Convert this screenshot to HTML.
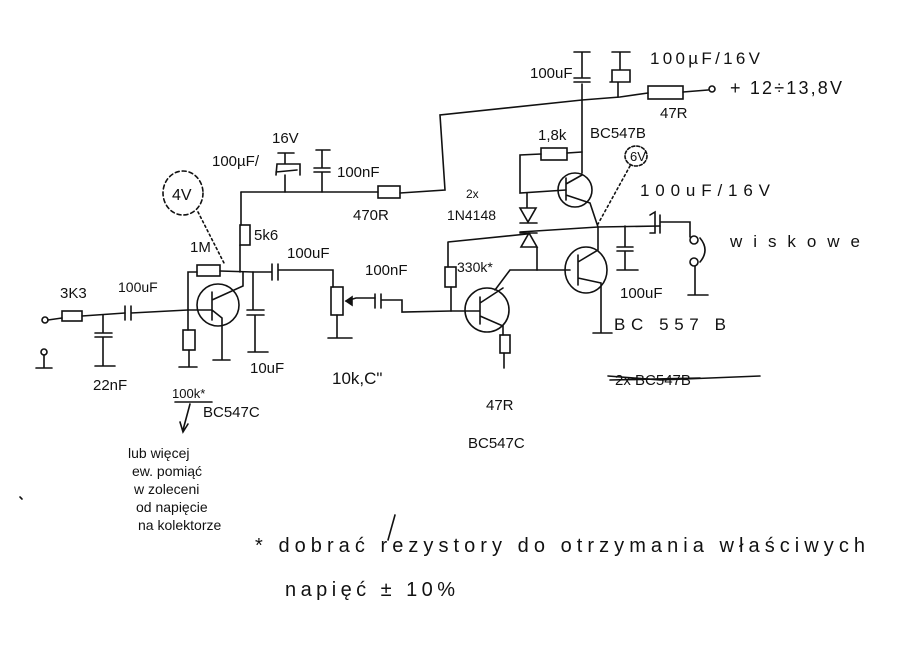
<!DOCTYPE html>
<html><head><meta charset="utf-8"><style>
html,body{margin:0;padding:0;background:#fff;width:900px;height:655px;overflow:hidden}
svg{display:block}
text{font-family:"Liberation Sans",sans-serif;fill:#111}
</style></head><body>
<svg width="900" height="655" viewBox="0 0 900 655" xmlns="http://www.w3.org/2000/svg">
<g stroke="#111" stroke-width="1.6" fill="none" stroke-linecap="round">
<circle cx="45" cy="320" r="3"/>
<path d="M48 320 L62 318"/>
<rect x="62" y="311" width="20" height="10"/>
<path d="M82 316 L125 313"/>
<path d="M103 315 V333 M95 333 H112 M95 337 H112 M103 337 V366 M95 366 H115"/>
<path d="M125 306 V320 M131 306 V320 M131 313 L188 310"/>
<circle cx="44" cy="352" r="3"/><path d="M44 355 V368 M36 368 H52"/>
<path d="M188 310 V272 L197 272"/>
<rect x="197" y="265" width="23" height="11"/>
<path d="M220 271 L253 272"/>
<path d="M188 310 V330"/><rect x="183" y="330" width="12" height="20"/><path d="M189 350 V367 M179 367 H197"/>
<path d="M188 310 H212"/>
<ellipse cx="218" cy="305" rx="21" ry="21"/>
<path d="M212 292 V320 M212 300 L243 286 V272 M212 310 L222 318 V360 M213 360 H230"/>
<path d="M240 272 V245"/><rect x="240" y="225" width="10" height="20"/><path d="M241 225 V192"/>
<path d="M253 272 V310 M247 310 H264 M247 315 H264 M255 315 V352 M248 352 H268"/>
<path d="M253 272 L272 272 M272 264 V280 M278 264 V280 M278 270 L333 270 V287"/>
<rect x="331" y="287" width="12" height="28"/><path d="M337 315 V338 M328 338 H352"/>
<path d="M346 301 L356 298 L375 298"/><path d="M346 301 L352 297 L352 305 Z" fill="#111"/>
<path d="M375 294 V308 M381 294 V308 M381 300 L402 300 V312 L451 311"/>
<path d="M241 192 L378 192"/>
<rect x="378" y="186" width="22" height="12"/>
<path d="M400 193 L445 190 L440 115 L582 100 L620 97 L648 93"/>
<path d="M285 192 V175 M276 172 L297 170 M276 175 L277 164 H300 V175 M285 164 V153 M278 153 H294"/>
<path d="M322 192 V172 M314 172 H330 M314 168 H330 M322 168 V150 M316 150 H330"/>
<rect x="648" y="86" width="35" height="13"/>
<path d="M683 92 L708 90"/><circle cx="712" cy="89" r="3"/>
<path d="M582 100 V84 M574 82 H590 M574 78 H590 M582 78 V52 M574 52 H590"/>
<path d="M618 97 V82 M610 82 H630 V70 L612 70 V82 M620 70 V52 M612 52 H630"/>
<path d="M582 100 V173"/>
<rect x="541" y="148" width="26" height="12"/>
<path d="M567 153 L582 152 M541 154 L520 155 V193 L566 190"/>
<ellipse cx="575" cy="190" rx="17" ry="17"/>
<path d="M566 178 V200 M566 184 L582 175 M566 195 L590 203 L598 227"/>
<path d="M527 193 V208 M520 208 H536 L528 222 Z M520 223 H537"/>
<path d="M520 232 L598 227 L660 226"/>
<path d="M537 247 H521 L529 233 Z M520 233 H537 M537 247 V270"/>
<path d="M448 242 L527 234 M448 242 V267"/><rect x="445" y="267" width="11" height="20"/><path d="M451 287 V311"/>
<path d="M537 270 H570"/>
<path d="M510 270 H537 M510 270 L495 290"/>
<ellipse cx="586" cy="270" rx="21" ry="23"/>
<path d="M578 255 V285 M578 262 L598 250 V227 M578 278 L601 283 V333 M593 333 H612"/>
<path d="M625 226 V247 M617 247 H633 M617 251 H633 M625 251 V270 M617 270 H638"/>
<path d="M650 215 L655 212 V233 L650 233 M660 215 V233 M660 222 L690 222 V237"/>
<circle cx="694" cy="240" r="4"/><circle cx="694" cy="262" r="4"/><path d="M700 238 Q710 250 700 262"/>
<path d="M695 266 V295 M688 295 H708"/>
<ellipse cx="487" cy="310" rx="22" ry="22"/>
<path d="M451 311 H480 M480 297 V324 M480 303 L503 288 M480 316 L503 326 V335"/>
<rect x="500" y="335" width="10" height="18"/><path d="M504 353 V368"/>
<ellipse cx="183" cy="193" rx="20" ry="22" stroke-dasharray="4 3"/>
<path d="M198 212 L225 265" stroke-dasharray="2 3"/>
<ellipse cx="636" cy="156" rx="11" ry="10" stroke-dasharray="3 2"/>
<path d="M630 166 L598 224" stroke-dasharray="2 3"/>
<path d="M175 402 H212 M190 404 L183 430 M180 422 L183 432 L188 424"/>
<path d="M608 376 L660 380 L760 376 M610 380 L700 378"/>
<path d="M20 497 L22 499"/>
<path d="M395 515 L388 540"/>
</g>
<g font-size="15">
<text x="60" y="298">3K3</text>
<text x="118" y="292" font-size="14">100uF</text>
<text x="93" y="390">22nF</text>
<text x="190" y="252">1M</text>
<text x="254" y="240">5k6</text>
<text x="287" y="258">100uF</text>
<text x="365" y="275">100nF</text>
<text x="250" y="373">10uF</text>
<text x="332" y="384" font-size="17">10k,C"</text>
<text x="172" y="200" font-size="16">4V</text>
<text x="212" y="166">100µF/</text>
<text x="272" y="143">16V</text>
<text x="337" y="177">100nF</text>
<text x="353" y="220">470R</text>
<text x="172" y="398" font-size="13">100k*</text>
<text x="203" y="417">BC547C</text>
<text x="486" y="410">47R</text>
<text x="468" y="448">BC547C</text>
<text x="466" y="198" font-size="12">2x</text>
<text x="447" y="220" font-size="14">1N4148</text>
<text x="457" y="272" font-size="14">330k*</text>
<text x="538" y="140">1,8k</text>
<text x="590" y="138">BC547B</text>
<text x="630" y="161" font-size="13">6V</text>
<text x="530" y="78">100uF</text>
<text x="650" y="64" font-size="17" textLength="110">100µF/16V</text>
<text x="730" y="94" font-size="18" textLength="112">+ 12÷13,8V</text>
<text x="660" y="118">47R</text>
<text x="640" y="196" font-size="17" textLength="130">100uF/16V</text>
<text x="730" y="247" font-size="17" textLength="130">wiskowe</text>
<text x="620" y="298">100uF</text>
<text x="614" y="330" font-size="17" textLength="112">BC 557 B</text>
<text x="615" y="385">2x BC547B</text>
</g>
<g font-size="14">
<text x="128" y="458">lub więcej</text>
<text x="132" y="476">ew. pomiąć</text>
<text x="134" y="494">w zoleceni</text>
<text x="136" y="512">od napięcie</text>
<text x="138" y="530">na kolektorze</text>
</g>
<text x="255" y="552" font-size="20" textLength="610">* dobrać  rezystory   do   otrzymania   właściwych</text>
<text x="285" y="596" font-size="20" textLength="170">napięć   ± 10%</text>
</svg>
</body></html>
